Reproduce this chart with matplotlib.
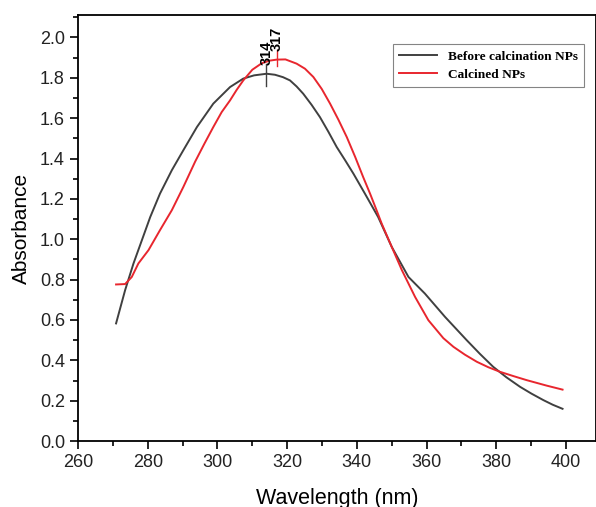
import numpy as np
import matplotlib
matplotlib.use('Agg')
import matplotlib.pyplot as plt
from matplotlib.ticker import MultipleLocator, FormatStrFormatter

# before calcination NPs
wl_before = [270.9, 273.5, 275.9, 278.3, 280.7, 283.5, 286.9, 290.2, 294.1, 298.8, 303.6,
             307.4, 310.5, 314.1, 316.5, 318.8, 320.8, 322.7, 324.6, 327.0, 329.4, 331.8,
             334.2, 336.6, 339.0, 342.3, 346.1, 350.0, 354.8, 359.5, 365.3, 371.5, 375.3,
             379.1, 382.9, 386.8, 390.1, 393.5, 396.2, 399.0]
abs_before = [0.583, 0.748, 0.880, 0.995, 1.110, 1.226, 1.342, 1.441, 1.556, 1.672, 1.754,
              1.796, 1.812, 1.820, 1.815, 1.803, 1.787, 1.757, 1.721, 1.666, 1.605, 1.533,
              1.457, 1.392, 1.325, 1.226, 1.110, 0.962, 0.813, 0.731, 0.615, 0.500, 0.432,
              0.368, 0.316, 0.269, 0.235, 0.203, 0.180, 0.160]

# calcined NPs
wl_calc = [270.9, 273.5, 275.4, 277.3, 280.2, 283.5, 286.9, 290.2, 293.6, 296.2, 298.8,
           301.2, 303.6, 305.5, 307.4, 310.0, 312.7, 315.0, 317.0, 319.5, 322.7, 325.1,
           327.5, 329.9, 332.3, 334.7, 337.1, 339.5, 341.8, 343.8, 345.5, 347.1, 350.0,
           352.9, 356.7, 360.5, 364.8, 367.7, 371.0, 374.4, 377.7, 381.1, 384.9, 388.7,
           394.4, 399.0]
abs_calc = [0.776, 0.778, 0.813, 0.880, 0.946, 1.045, 1.144, 1.259, 1.385, 1.472, 1.556,
            1.630, 1.688, 1.740, 1.787, 1.840, 1.872, 1.885, 1.890, 1.891, 1.870, 1.845,
            1.804, 1.745, 1.672, 1.592, 1.506, 1.408, 1.308, 1.225, 1.150, 1.078, 0.962,
            0.847, 0.714, 0.599, 0.510, 0.467, 0.428, 0.393, 0.366, 0.343, 0.322, 0.302,
            0.275, 0.255]

peak_before = (314, 1.82)
peak_calc = (317, 1.89)

plt.rcParams['font.family'] = ['Liberation Sans', 'DejaVu Sans']

fig = plt.figure(figsize=(5.96, 5.07), dpi=100)
ax = fig.add_axes([0.131, 0.130, 0.869, 0.840])

ax.plot(wl_before, abs_before, color='#404040', lw=1.4, label='Before calcination NPs')
ax.plot(wl_calc, abs_calc, color='#e8262e', lw=1.4, label='Calcined NPs')

# peak markers
ax.plot([peak_before[0]] * 2, [1.76, 1.87], color='#404040', lw=1)
ax.plot([peak_calc[0]] * 2, [1.86, 1.94], color='#e8262e', lw=1)
ax.text(peak_before[0], 1.865, '314', rotation=90, ha='center', va='bottom',
        fontsize=10.5, fontweight='bold')
ax.text(peak_calc[0], 1.935, '317', rotation=90, ha='center', va='bottom',
        fontsize=10.5, fontweight='bold')

ax.set_xlim(260, 408.6)
ax.set_ylim(0, 2.11)
ax.xaxis.set_major_locator(MultipleLocator(20))
ax.xaxis.set_minor_locator(MultipleLocator(10))
ax.yaxis.set_major_locator(MultipleLocator(0.2))
ax.yaxis.set_minor_locator(MultipleLocator(0.1))
ax.yaxis.set_major_formatter(FormatStrFormatter('%.1f'))
ax.tick_params(which='both', direction='out', top=False, right=False, width=1.2,
               labelcolor='#222222')
ax.tick_params(which='major', length=6, labelsize=13)
ax.tick_params(which='minor', length=3.5)
for s in ax.spines.values():
    s.set_linewidth(1.3)

ax.set_xlabel('Wavelength (nm)', fontsize=15.5, labelpad=12)
ax.set_ylabel('Absorbance', fontsize=15, labelpad=6)

leg = ax.legend(loc='upper right', bbox_to_anchor=(0.977, 0.932), frameon=True, fancybox=False,
                edgecolor='#666666', prop={'family': 'Liberation Serif', 'weight': 'bold', 'size': 9.6},
                handlelength=2.9, handletextpad=0.8, borderpad=0.45, labelspacing=0.45,
                borderaxespad=0)
leg.get_frame().set_linewidth(0.8)

plt.savefig('out.png', dpi=100)
